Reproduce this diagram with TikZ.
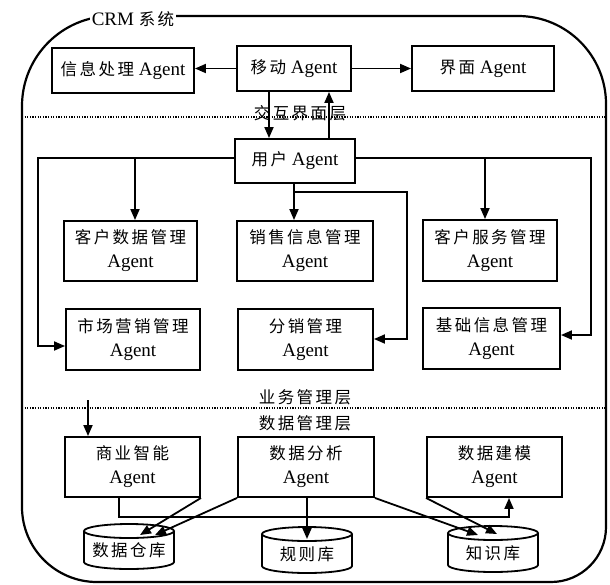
\documentclass[tikz,border=0pt]{standalone}
\usepackage{fontspec}
\setmainfont{Liberation Serif}
\newfontfamily\cjk[LetterSpace=15]{Noto Sans CJK SC}
\newcommand{\zh}[1]{{\cjk\fontsize{16.5}{24}\selectfont #1}}
\usetikzlibrary{arrows.meta}
\newcommand{\dbcyl}[5]{%
  \draw[boxline] (#2-45,#3+7) -- (#2-45,#4-7) arc[start angle=180,end angle=0,x radius=45,y radius=7] -- (#2+45,#3+7);
  \draw[boxline] (#2,#3+7) ellipse[x radius=45, y radius=7];
  \node (#1) at (#2,#4/2+#3/2+4) {\zh{#5}};
}
\begin{document}
\begin{tikzpicture}[x=1pt,y=-1pt,
 every node/.style={font=\fontsize{19}{24}\selectfont},
 box/.style={draw, line width=1.9pt, align=center, inner sep=0pt},
 boxline/.style={line width=1.8pt},
 arr/.style={line width=1.8pt, -{Triangle[length=11pt,width=9pt]}},
 frame/.style={line width=2.2pt},
 dotline/.style={line width=1.3pt, dash pattern=on 1.2pt off 1.4pt},
]
\useasboundingbox (0,0) rectangle (610,584);

% outer frame
\draw[frame] (182,16) -- (518,16) .. controls (566.6,16) and (606,55.4) .. (606,104)
  -- (606,527) .. controls (606,557.4) and (581.4,582) .. (551,582)
  -- (97,582) .. controls (55.6,582) and (22,548.4) .. (22,507)
  -- (22,106) .. controls (22,56.3) and (62.3,16) .. (112,16) -- cycle;
\node[fill=white, inner sep=2pt] (crm) at (133,19) {CRM \zh{系统}};

% layer separators
\draw[dotline] (22,117) -- (606,117);
\draw[dotline] (22,408) -- (606,408);
\node (l1) at (300,113) {\zh{交互界面层}};
\node (l2) at (305,397) {\zh{业务管理层}};
\node (l3) at (305,423) {\zh{数据管理层}};

% boxes
\node[box, minimum width=142pt, minimum height=45pt] (info) at (123,70.5) {\zh{信息处理} Agent};
\node[box, minimum width=114pt, minimum height=45pt] (mobile) at (294,68.5) {\zh{移动} Agent};
\node[box, minimum width=142pt, minimum height=45pt] (ui) at (483,68.5) {\zh{界面} Agent};
\node[box, minimum width=120pt, minimum height=44pt] (user) at (295,161) {\zh{用户} Agent};

\node[box, minimum width=133pt, minimum height=60pt] (cust) at (130.5,251) {\zh{客户数据管理}\\Agent};
\node[box, minimum width=136pt, minimum height=60pt] (sales) at (305,251) {\zh{销售信息管理}\\Agent};
\node[box, minimum width=134pt, minimum height=61pt] (serv) at (490,250.5) {\zh{客户服务管理}\\Agent};
\node[box, minimum width=134pt, minimum height=61pt] (market) at (133,339.5) {\zh{市场营销管理}\\Agent};
\node[box, minimum width=135pt, minimum height=61pt] (distrib) at (305.5,339.5) {\zh{分销管理}\\Agent};
\node[box, minimum width=137pt, minimum height=61pt] (basic) at (491.5,338.5) {\zh{基础信息管理}\\Agent};

\node[box, minimum width=135pt, minimum height=60pt] (bi) at (132.5,467) {\zh{商业智能}\\Agent};
\node[box, minimum width=136pt, minimum height=60pt] (da) at (306,467) {\zh{数据分析}\\Agent};
\node[box, minimum width=135pt, minimum height=60pt] (dm) at (494.5,467) {\zh{数据建模}\\Agent};

\dbcyl{dw}{129}{524}{569}{数据仓库}
\dbcyl{rule}{307}{527}{573}{规则库}
\dbcyl{kb}{493}{526}{572}{知识库}

% helper coordinates
\coordinate (xa) at (269,0);
\coordinate (xb) at (329,0);
\coordinate (yu) at (0,158);
\coordinate (xl) at (38,0);
\coordinate (ym) at (0,346);
\coordinate (xc) at (135,0);
\coordinate (xr) at (591,0);
\coordinate (yb) at (0,335);
\coordinate (xs) at (485,0);
\coordinate (xm) at (294,0);
\coordinate (yh) at (0,192);
\coordinate (xd) at (407,0);
\coordinate (yd) at (0,339);
\coordinate (bin) at (88,400);
\coordinate (xbi) at (119,0);
\coordinate (xdm) at (509,0);
\coordinate (yl) at (0,517);
\coordinate (dw1) at (140,535);
\coordinate (dw2) at (155,535);
\coordinate (rl) at (307,539);
\coordinate (kb1) at (478,535);
\coordinate (kb2) at (497,534);

% connectors
\draw[arr] (mobile.west) -- (mobile.west -| info.east);
\draw[arr] (mobile.east) -- (mobile.east -| ui.west);
\draw[arr] (mobile.south -| xa) -- (user.north -| xa);
\draw[arr] (user.north -| xb) -- (mobile.south -| xb);

\draw[arr] (user.west |- yu) -| (xl |- ym) -- (market.west |- ym);
\draw[arr] (xc |- yu) -- (cust.north -| xc);
\draw[arr] (user.east |- yu) -| (xr |- yb) -- (basic.east |- yb);
\draw[arr] (xs |- yu) -- (serv.north -| xs);
\draw[arr] (user.south -| xm) -- (sales.north -| xm);
\draw[arr] (xm |- yh) -| (xd |- yd) -- (distrib.east |- yd);

\draw[arr] (bin) -- (bin |- bi.north);
\draw[arr] (bi.south -| xbi) |- (xdm |- yl) -- (dm.south -| xdm);
\draw[arr] (bi.south east) -- (dw1);
\draw[arr] (da.south west) -- (dw2);
\draw[arr] (da.south -| rl) -- (rl);
\draw[arr] (da.south east) -- (kb1);
\draw[arr] (dm.south west) -- (kb2);
\end{tikzpicture}
\end{document}
